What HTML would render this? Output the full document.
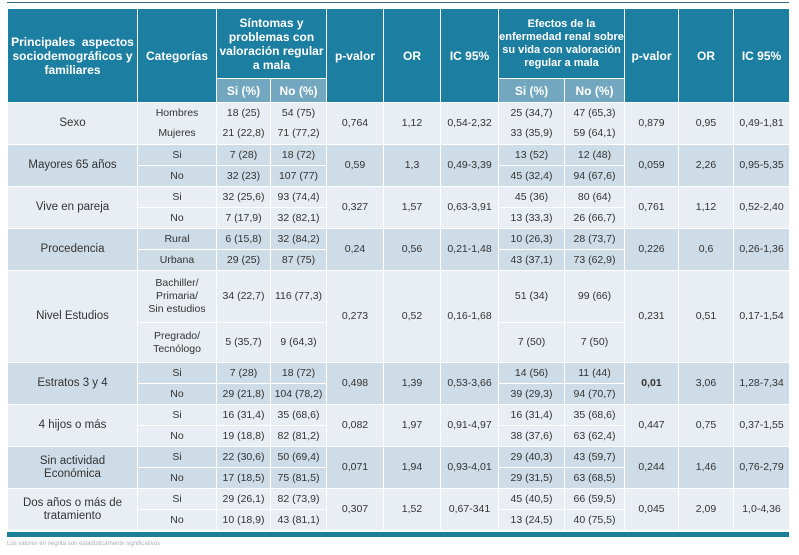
<!DOCTYPE html>
<html><head><meta charset="utf-8"><style>
body{margin:0;width:799px;height:555px;background:#fff;position:relative;overflow:hidden;font-family:"Liberation Sans",sans-serif;}
#topline{position:absolute;left:7px;top:2px;width:782px;height:1px;background:#3b6e85;}
table{position:absolute;left:7px;top:8px;border-collapse:collapse;table-layout:fixed;width:782px;}
td,th{border:1px solid #fff;text-align:center;vertical-align:middle;padding:0;font-size:10.5px;color:#333;line-height:13px;}
th{background:#1c7fa1;color:#fff;font-size:12px;font-weight:bold;line-height:14px;}
th.sm{font-size:11px;line-height:13px;}
th.sub{background:#73a7c0;font-size:12px;}
tr.l td{background:#e8eef3;}
tr.d td{background:#cddce6;}
td.c1{font-size:11.5px;}
td.nb{border-bottom:none;}
td.nt{border-top:none;}
#bar{position:absolute;left:7px;top:532px;width:782px;height:5px;background:#1c7f98;}
#note{position:absolute;left:7px;top:541px;font-size:6px;color:#aab;}
</style></head><body>
<div id="topline"></div>
<table>
<colgroup><col style="width:130px"><col style="width:79px"><col style="width:54px"><col style="width:56px"><col style="width:57px"><col style="width:57px"><col style="width:58px"><col style="width:66px"><col style="width:60px"><col style="width:54px"><col style="width:55px"><col style="width:56px"></colgroup>
<tr style="height:70px">
<th rowspan="2">Principales&nbsp; aspectos sociodemográficos y familiares</th>
<th rowspan="2">Categorías</th>
<th colspan="2">Síntomas y problemas con valoración regular a mala</th>
<th rowspan="2">p-valor</th>
<th rowspan="2">OR</th>
<th rowspan="2">IC 95%</th>
<th colspan="2" class="sm">Efectos de la enfermedad renal sobre su vida con valoración regular a mala</th>
<th rowspan="2">p-valor</th>
<th rowspan="2">OR</th>
<th rowspan="2">IC 95%</th>
</tr>
<tr style="height:24px">
<th class="sub">Si (%)</th><th class="sub">No (%)</th>
<th class="sub">Si (%)</th><th class="sub">No (%)</th>
</tr>
<tr class="l" style="height:21px"><td class="c1" rowspan="2">Sexo</td><td class="nb">Hombres</td><td class="nb">18 (25)</td><td class="nb">54 (75)</td><td rowspan="2">0,764</td><td rowspan="2">1,12</td><td rowspan="2">0,54-2,32</td><td class="nb">25 (34,7)</td><td class="nb">47 (65,3)</td><td rowspan="2">0,879</td><td rowspan="2">0,95</td><td rowspan="2">0,49-1,81</td></tr>
<tr class="l" style="height:21px"><td class="nt">Mujeres</td><td class="nt">21 (22,8)</td><td class="nt">71 (77,2)</td><td class="nt">33 (35,9)</td><td class="nt">59 (64,1)</td></tr>
<tr class="d" style="height:21px"><td class="c1" rowspan="2">Mayores 65 años</td><td>Si</td><td>7 (28)</td><td>18 (72)</td><td rowspan="2">0,59</td><td rowspan="2">1,3</td><td rowspan="2">0,49-3,39</td><td>13 (52)</td><td>12 (48)</td><td rowspan="2">0,059</td><td rowspan="2">2,26</td><td rowspan="2">0,95-5,35</td></tr>
<tr class="d" style="height:21px"><td>No</td><td>32 (23)</td><td>107 (77)</td><td>45 (32,4)</td><td>94 (67,6)</td></tr>
<tr class="l" style="height:21px"><td class="c1" rowspan="2">Vive en pareja</td><td>Si</td><td>32 (25,6)</td><td>93 (74,4)</td><td rowspan="2">0,327</td><td rowspan="2">1,57</td><td rowspan="2">0,63-3,91</td><td>45 (36)</td><td>80 (64)</td><td rowspan="2">0,761</td><td rowspan="2">1,12</td><td rowspan="2">0,52-2,40</td></tr>
<tr class="l" style="height:21px"><td>No</td><td>7 (17,9)</td><td>32 (82,1)</td><td>13 (33,3)</td><td>26 (66,7)</td></tr>
<tr class="d" style="height:21px"><td class="c1" rowspan="2">Procedencia</td><td>Rural</td><td>6 (15,8)</td><td>32 (84,2)</td><td rowspan="2">0,24</td><td rowspan="2">0,56</td><td rowspan="2">0,21-1,48</td><td>10 (26,3)</td><td>28 (73,7)</td><td rowspan="2">0,226</td><td rowspan="2">0,6</td><td rowspan="2">0,26-1,36</td></tr>
<tr class="d" style="height:21px"><td>Urbana</td><td>29 (25)</td><td>87 (75)</td><td>43 (37,1)</td><td>73 (62,9)</td></tr>
<tr class="l" style="height:52px"><td class="c1" rowspan="2">Nivel Estudios</td><td>Bachiller/<br>Primaria/<br>Sin estudios</td><td>34 (22,7)</td><td>116 (77,3)</td><td rowspan="2">0,273</td><td rowspan="2">0,52</td><td rowspan="2">0,16-1,68</td><td>51 (34)</td><td>99 (66)</td><td rowspan="2">0,231</td><td rowspan="2">0,51</td><td rowspan="2">0,17-1,54</td></tr>
<tr class="l" style="height:40px"><td>Pregrado/<br>Tecnólogo</td><td>5 (35,7)</td><td>9 (64,3)</td><td>7 (50)</td><td>7 (50)</td></tr>
<tr class="d" style="height:21px"><td class="c1" rowspan="2">Estratos 3 y 4</td><td>Si</td><td>7 (28)</td><td>18 (72)</td><td rowspan="2">0,498</td><td rowspan="2">1,39</td><td rowspan="2">0,53-3,66</td><td>14 (56)</td><td>11 (44)</td><td rowspan="2" style="font-weight:bold">0,01</td><td rowspan="2">3,06</td><td rowspan="2">1,28-7,34</td></tr>
<tr class="d" style="height:21px"><td>No</td><td>29 (21,8)</td><td>104 (78,2)</td><td>39 (29,3)</td><td>94 (70,7)</td></tr>
<tr class="l" style="height:21px"><td class="c1" rowspan="2">4 hijos o más</td><td>Si</td><td>16 (31,4)</td><td>35 (68,6)</td><td rowspan="2">0,082</td><td rowspan="2">1,97</td><td rowspan="2">0,91-4,97</td><td>16 (31,4)</td><td>35 (68,6)</td><td rowspan="2">0,447</td><td rowspan="2">0,75</td><td rowspan="2">0,37-1,55</td></tr>
<tr class="l" style="height:21px"><td>No</td><td>19 (18,8)</td><td>82 (81,2)</td><td>38 (37,6)</td><td>63 (62,4)</td></tr>
<tr class="d" style="height:21px"><td class="c1" rowspan="2">Sin actividad<br>Económica</td><td>Si</td><td>22 (30,6)</td><td>50 (69,4)</td><td rowspan="2">0,071</td><td rowspan="2">1,94</td><td rowspan="2">0,93-4,01</td><td>29 (40,3)</td><td>43 (59,7)</td><td rowspan="2">0,244</td><td rowspan="2">1,46</td><td rowspan="2">0,76-2,79</td></tr>
<tr class="d" style="height:21px"><td>No</td><td>17 (18,5)</td><td>75 (81,5)</td><td>29 (31,5)</td><td>63 (68,5)</td></tr>
<tr class="l" style="height:21px"><td class="c1" rowspan="2">Dos años o más de<br>tratamiento</td><td>Si</td><td>29 (26,1)</td><td>82 (73,9)</td><td rowspan="2">0,307</td><td rowspan="2">1,52</td><td rowspan="2">0,67-341</td><td>45 (40,5)</td><td>66 (59,5)</td><td rowspan="2">0,045</td><td rowspan="2">2,09</td><td rowspan="2">1,0-4,36</td></tr>
<tr class="l" style="height:21px"><td>No</td><td>10 (18,9)</td><td>43 (81,1)</td><td>13 (24,5)</td><td>40 (75,5)</td></tr>
</table>
<div id="bar"></div>
<div id="note">Los valores en negrita son estadísticamente significativos</div>
</body></html>
